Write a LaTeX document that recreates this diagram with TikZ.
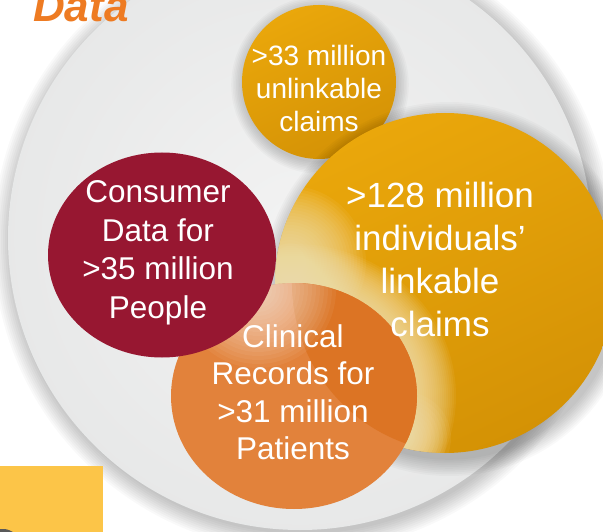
\documentclass[tikz,border=0pt]{standalone}
\usepackage{fontspec}
\setmainfont{Liberation Sans}
\usetikzlibrary{shapes.geometric,calc}

\definecolor{bggray}{HTML}{D9DADB}
\definecolor{bgmid}{HTML}{E6E7E7}
\definecolor{bglight}{HTML}{F3F3F3}
\definecolor{goldlight}{HTML}{EAA70B}
\definecolor{golddark}{HTML}{D49205}
\definecolor{wine}{HTML}{971731}
\definecolor{clinorange}{HTML}{E2823B}
\definecolor{clindark}{HTML}{DC7424}
\definecolor{cream}{HTML}{F8E6B8}
\definecolor{titleorange}{HTML}{EE7B22}
\definecolor{tabyellow}{HTML}{FCC548}

\pgfdeclareradialshading{backdropshade}{\pgfpointorigin}{color(0bp)=(bglight); color(28bp)=(bgmid); color(48bp)=(bggray); color(50bp)=(bggray)}

\begin{document}
\begin{tikzpicture}[x=1pt, y=-1pt,
    bubble/.style={ellipse, inner sep=0pt, draw=none},
    goldbubble/.style={bubble, top color=goldlight, bottom color=golddark, shading angle=25},
    bubbletext/.style={text=white, align=center, inner sep=0pt},
    haze/.style={black, opacity=0.022},
    glow/.style={cream, opacity=0.07}]
    \useasboundingbox (0,0) rectangle (603,532);
    \fill[white] (0,0) rectangle (603,532);

    % Backdrop
    \foreach \d in {1,...,10}
      \fill[haze] (303,242) circle ({290+2*\d});
    \node[bubble, minimum size=584pt, shading=backdropshade] (backdrop) at (300,238) {};
    \node[anchor=base west, inner sep=0pt, text=titleorange,
      font=\fontsize{44}{44}\selectfont\bfseries\itshape] (title) at (33,22) {Data};
    \fill[tabyellow] (0,466) rectangle (103,532);
    \fill[black!65] (0,529) .. controls (7,529) .. (13,532) -- (0,532) -- cycle;

    % Bubbles
    \foreach \d in {1,...,8}
      \fill[haze] (320,85) circle ({76+1.6*\d});
    \node[goldbubble, minimum size=154pt] (unlinkable) at (319,82) {};
    \foreach \d in {1,...,10}
      \fill[haze] (449,289) circle ({169+1.8*\d});
    \node[goldbubble, minimum size=340pt] (linkable) at (445,283) {};
    \begin{scope}
      \clip (linkable.center) circle (170);
      \foreach \d in {0,2,...,40}
        \fill[glow] (294,396) ellipse ({122+\d} and {112+\d});
      \foreach \d in {16,19,...,76}
        \fill[glow] (290,262) circle (\d);
      \foreach \d in {10,14,...,46}
        \fill[glow] (405,438) circle (\d);
    \end{scope}

    \node[bubble, minimum width=246pt, minimum height=226pt, fill=clinorange] (clinical) at (294,396) {};
    \begin{scope}
      \clip (clinical.center) ellipse (123 and 113);
      \fill[clindark] (462,283) circle (170);
      \foreach \d in {14,18,...,78}
        \fill[white, opacity=0.05] (258,290) circle (\d);
    \end{scope}
    \node[bubble, minimum width=228pt, minimum height=205pt, fill=wine] (consumer) at (162,255) {};

    % Labels
    \node[bubbletext, font=\fontsize{28}{33}\selectfont] (unlinkabletext)
      at ($(unlinkable)+(0,6)$) {>33 million\\unlinkable\\claims};
    \node[bubbletext, font=\fontsize{35}{43}\selectfont] (linkabletext)
      at ($(linkable)+(-5,-24)$) {>128 million\\individuals’\\linkable\\claims};
    \node[bubbletext, font=\fontsize{31.5}{38.5}\selectfont] (consumertext)
      at ($(consumer)+(-4,-2)$) {Consumer\\Data for\\>35 million\\People};
    \node[bubbletext, font=\fontsize{31.5}{37.5}\selectfont] (clinicaltext)
      at ($(clinical)+(-1,-4)$) {Clinical\\Records for\\>31 million\\Patients};
\end{tikzpicture}
\end{document}
